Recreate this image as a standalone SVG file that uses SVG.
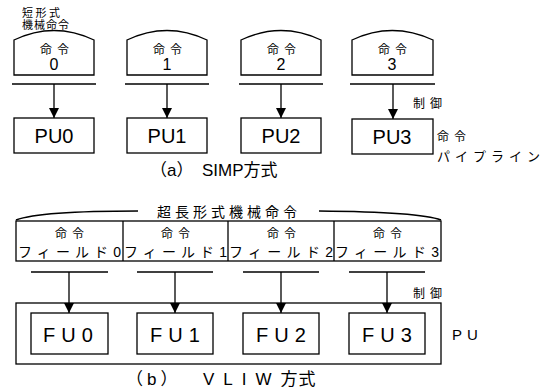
<svg xmlns="http://www.w3.org/2000/svg" width="554" height="389" viewBox="0 0 554 389">
<defs>
<style>
.t{font-family:"Liberation Sans","Noto Sans CJK JP",sans-serif;fill:#000}
.box{fill:none;stroke:#000;stroke-width:1.3}
.ln{fill:none;stroke:#000;stroke-width:1.5}
.ar{fill:none;stroke:#000;stroke-width:1.3;marker-end:url(#ah)}
.jp{font-size:12px;letter-spacing:5px}
.c{text-anchor:middle}
.fu{font-size:20px;letter-spacing:6px;text-anchor:middle}
.fd{font-size:14px}
</style>
<marker id="ah" viewBox="0 0 10 12" refX="10" refY="6" markerWidth="10" markerHeight="12" markerUnits="userSpaceOnUse" orient="auto">
<path d="M0,1 L10,6 L0,11 Z" fill="#000"/>
</marker>
</defs>
<rect width="554" height="389" fill="#fff"/>

<!-- (a) SIMP -->
<text class="t" x="22" y="17" font-size="11" letter-spacing="2.5">短形式</text>
<text class="t" x="22" y="29" font-size="11" letter-spacing="1">機械命令</text>

<g id="inst0">
<path class="box" d="M14,40 Q54,21 94,40 L94,75 L14,75 Z"/>
<text class="t jp c" x="57" y="54">命令</text>
<text class="t c" x="54" y="70" font-size="16">0</text>
</g>
<g id="inst1">
<path class="box" d="M127,40 Q167,21 207,40 L207,75 L127,75 Z"/>
<text class="t jp c" x="170" y="54">命令</text>
<text class="t c" x="167" y="70" font-size="16">1</text>
</g>
<g id="inst2">
<path class="box" d="M241,40 Q281,21 321,40 L321,75 L241,75 Z"/>
<text class="t jp c" x="284" y="54">命令</text>
<text class="t c" x="281" y="70" font-size="16">2</text>
</g>
<g id="inst3">
<path class="box" d="M352,40 Q392,21 433,40 L433,75 L352,75 Z"/>
<text class="t jp c" x="395" y="54">命令</text>
<text class="t c" x="392" y="70" font-size="16">3</text>
</g>

<g id="pu0"><rect class="box" x="14" y="118" width="80" height="35"/><text class="t c" x="54" y="143" font-size="20">PU0</text></g>
<g id="pu1"><rect class="box" x="127" y="118" width="80" height="35"/><text class="t c" x="167" y="143" font-size="20">PU1</text></g>
<g id="pu2"><rect class="box" x="241" y="118" width="80" height="35"/><text class="t c" x="281" y="143" font-size="20">PU2</text></g>
<g id="pu3"><rect class="box" x="352" y="119" width="81" height="35"/><text class="t c" x="392" y="144" font-size="20">PU3</text></g>

<g id="connectors-a">
<line class="ln" x1="12" y1="84" x2="96" y2="84"/>
<line class="ln" x1="125" y1="84" x2="209" y2="84"/>
<line class="ln" x1="239" y1="84" x2="323" y2="84"/>
<line class="ln" x1="350" y1="84" x2="435" y2="84"/>
<line class="ar" x1="54" y1="84" x2="54" y2="118"/>
<line class="ar" x1="167" y1="84" x2="167" y2="118"/>
<line class="ar" x1="281" y1="84" x2="281" y2="118"/>
<line class="ar" x1="393" y1="84" x2="393" y2="119"/>
</g>

<text class="t jp" x="413" y="108">制御</text>
<text class="t jp" x="437" y="141">命令</text>
<text class="t" x="437" y="161" font-size="13" letter-spacing="5">パイプライン</text>
<text class="t" x="150" y="176" font-size="17">（a）</text>
<text class="t" x="202" y="176" font-size="17">SIMP方式</text>

<!-- (b) VLIW -->
<path class="ln" d="M16,220 Q40,211 138,211"/>
<path class="ln" d="M319,211 Q420,212 441,220"/>
<text class="t" x="157" y="217" font-size="14" letter-spacing="4">超長形式機械命令</text>

<g id="fields">
<rect class="box" x="16" y="221" width="425" height="40"/>
<line class="box" x1="123" y1="221" x2="123" y2="261"/>
<line class="box" x1="228" y1="221" x2="228" y2="261"/>
<line class="box" x1="334" y1="221" x2="334" y2="261"/>
</g>
<g id="field0"><text class="t jp c" x="72" y="238">命令</text><text class="t fd" x="18" y="257" textLength="103" lengthAdjust="spacing">フィールド0</text></g>
<g id="field1"><text class="t jp c" x="178" y="238">命令</text><text class="t fd" x="124" y="257" textLength="103" lengthAdjust="spacing">フィールド1</text></g>
<g id="field2"><text class="t jp c" x="284" y="238">命令</text><text class="t fd" x="229" y="257" textLength="104" lengthAdjust="spacing">フィールド2</text></g>
<g id="field3"><text class="t jp c" x="390" y="238">命令</text><text class="t fd" x="335" y="257" textLength="104" lengthAdjust="spacing">フィールド3</text></g>

<g id="pu">
<rect class="box" x="16" y="303" width="425" height="61"/>
<text class="t" x="452" y="340" font-size="15" letter-spacing="5">PU</text>
</g>
<g id="fu0"><rect class="box" x="31" y="313" width="77" height="41"/><text class="t fu" x="71" y="342">FU0</text></g>
<g id="fu1"><rect class="box" x="137" y="313" width="76" height="41"/><text class="t fu" x="178" y="342">FU1</text></g>
<g id="fu2"><rect class="box" x="243" y="313" width="76" height="41"/><text class="t fu" x="284" y="342">FU2</text></g>
<g id="fu3"><rect class="box" x="349" y="313" width="76" height="41"/><text class="t fu" x="390" y="342">FU3</text></g>

<g id="connectors-b">
<line class="ln" x1="31" y1="272" x2="108" y2="272"/>
<line class="ln" x1="137" y1="272" x2="213" y2="272"/>
<line class="ln" x1="243" y1="272" x2="319" y2="272"/>
<line class="ln" x1="349" y1="272" x2="425" y2="272"/>
<line class="ar" x1="69" y1="272" x2="69" y2="313"/>
<line class="ar" x1="175" y1="272" x2="175" y2="313"/>
<line class="ar" x1="281" y1="272" x2="281" y2="313"/>
<line class="ar" x1="387" y1="272" x2="387" y2="313"/>
</g>

<text class="t jp" x="413" y="298">制御</text>
<text class="t" x="126" y="385" font-size="17" letter-spacing="4">（b）</text>
<text class="t" x="203" y="385" font-size="17"><tspan letter-spacing="9">VLIW</tspan><tspan letter-spacing="1">方式</tspan></text>
</svg>
